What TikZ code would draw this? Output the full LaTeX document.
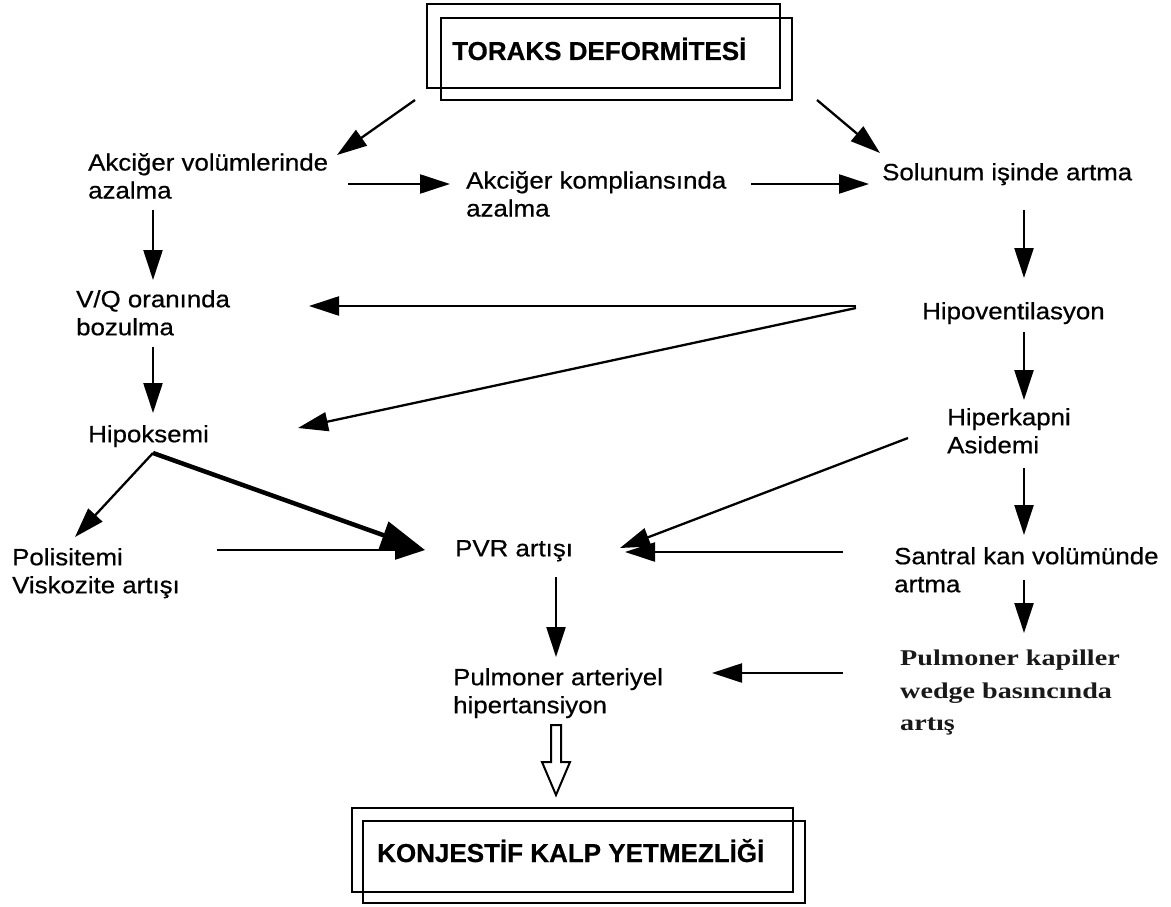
\documentclass[tikz,border=0pt]{standalone}
\usepackage{fontspec}
\usetikzlibrary{arrows.meta,calc}
\newfontfamily\sansf[FakeStretch=1.1,FakeBold=0.6]{Liberation Sans}
\newfontfamily\boxf[FakeBold=0.5]{Liberation Sans}
\newfontfamily\serf[FakeStretch=1.25]{Liberation Serif}
\tikzset{
  lbl/.style={anchor=north west, inner sep=0pt, align=left, font=\fontsize{23.5}{28}\selectfont\sansf},
  serlbl/.style={anchor=north west, inner sep=0pt, align=left, font=\fontsize{22.5}{32.5}\selectfont\serf\bfseries, text=black!90},
  boxtxt/.style={anchor=base west, inner sep=0pt, font=\fontsize{26}{30}\selectfont\boxf\bfseries},
  arr/.style={line width=2.3pt, -{Triangle[length=30pt,width=19pt]}},
  thickarr/.style={line width=4.5pt, -{Triangle[length=44pt,width=28pt]}},
  boxline/.style={line width=2.5pt},
  hollow/.style={line width=2pt, line join=miter, fill=white}
}
\begin{document}
\begin{tikzpicture}[x=1pt,y=-1pt]
\useasboundingbox[fill=white] (0,0) rectangle (1171,907);

% title boxes
\node[boxtxt] (top) at (452,60) {TORAKS DEFORMİTESİ};
\draw[boxline] ([shift={(-25,-56)}]top.base west) rectangle ([shift={(328,28)}]top.base west);
\draw[boxline] ([shift={(-11,-42)}]top.base west) rectangle ([shift={(340,40)}]top.base west);

\node[boxtxt] (kky) at (377,862) {KONJESTİF KALP YETMEZLİĞİ};
\draw[boxline] ([shift={(-25,-54)}]kky.base west) rectangle ([shift={(416,30)}]kky.base west);
\draw[boxline] ([shift={(-14,-41)}]kky.base west) rectangle ([shift={(428,41)}]kky.base west);

% text nodes
\node[lbl] (avol) at (88,153) {Akciğer volümlerinde\\azalma};
\node[lbl] (akompl) at (466,171) {Akciğer kompliansında\\azalma};
\node[lbl] (sol) at (882,163) {Solunum işinde artma};
\node[lbl] (vq) at (76,290) {V/Q oranında\\bozulma};
\node[lbl] (hipov) at (922,302) {Hipoventilasyon};
\node[lbl] (hipok) at (88,425) {Hipoksemi};
\node[lbl] (hiperk) at (947,408) {Hiperkapni\\Asidemi};
\node[lbl] (poli) at (12,548) {Polisitemi\\Viskozite artışı};
\node[lbl] (pvr) at (455,540) {PVR artışı};
\node[lbl] (sant) at (894,547) {Santral kan volümünde\\artma};
\node[lbl] (pah) at (453,668) {Pulmoner arteriyel\\hipertansiyon};
\node[serlbl] (pkw) at (900,650) {Pulmoner kapiller\\wedge basıncında\\artış};

% connectors
\draw[arr] ([shift={(-37,40)}]top.base west) -- ([shift={(249,2)}]avol.north west);
\draw[arr] ([shift={(365,40)}]top.base west) -- ([shift={(-2,-10)}]sol.north west);
\draw[arr] ([shift={(260,31)}]avol.north west) -- ([shift={(-16,13)}]akompl.north west);
\draw[arr] ([shift={(285,13)}]akompl.north west) -- ([shift={(-13,21)}]sol.north west);
\draw[arr] ([shift={(65,57)}]avol.north west) -- ([shift={(77,-10)}]vq.north west);
\draw[arr] ([shift={(142,47)}]sol.north west) -- ([shift={(102,-24)}]hipov.north west);
\draw[arr] ([shift={(-66,4)}]hipov.north west) -- ([shift={(233,16)}]vq.north west);
\draw[arr] ([shift={(-66,6)}]hipov.north west) -- ([shift={(210,3)}]hipok.north west);
\draw[arr] ([shift={(77,57)}]vq.north west) -- ([shift={(65,-12)}]hipok.north west);
\draw[arr] ([shift={(102,30)}]hipov.north west) -- ([shift={(77,-8)}]hiperk.north west);
\draw[arr] ([shift={(65,28)}]hipok.north west) -- ([shift={(63,-11)}]poli.north west);
\draw[arr] ([shift={(205,2)}]poli.north west) -- ([shift={(-30,10)}]pvr.north west);
\draw[thickarr] ([shift={(65,28)}]hipok.north west) -- ([shift={(-30,10)}]pvr.north west);
\draw[arr] ([shift={(-39,30)}]hiperk.north west) -- ([shift={(165,8)}]pvr.north west);
\draw[arr] ([shift={(-51,5)}]sant.north west) -- ([shift={(170,12)}]pvr.north west);
\draw[arr] ([shift={(77,60)}]hiperk.north west) -- ([shift={(130,-12)}]sant.north west);
\draw[arr] ([shift={(130,33)}]sant.north west) -- ([shift={(124,-17)}]pkw.north west);
\draw[arr] ([shift={(101,37)}]pvr.north west) -- ([shift={(103,-11)}]pah.north west);
\draw[arr] ([shift={(-57,23)}]pkw.north west) -- ([shift={(259,5)}]pah.north west);

% hollow arrow
\coordinate (hs) at ([shift={(103,57)}]pah.north west);
\coordinate (ht) at ([shift={(179,-67)}]kky.base west);
\draw[hollow] ($(hs)+(-5,0)$) -- ($(hs)+(-5,37)$) -- ($(hs)+(-14,37)$) -- (ht)
  -- ($(hs)+(14,37)$) -- ($(hs)+(5,37)$) -- ($(hs)+(5,0)$) -- cycle;
\end{tikzpicture}
\end{document}
